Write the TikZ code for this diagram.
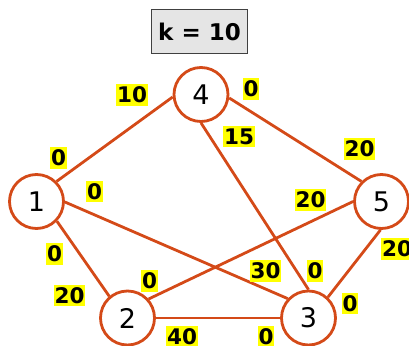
\documentclass[tikz,border=0pt]{standalone}
\usepackage{fontspec}
\setmainfont{DejaVu Sans}
\usetikzlibrary{positioning}
\definecolor{arcred}{RGB}{212,74,24}
\definecolor{hilite}{RGB}{255,255,0}
\tikzset{
  vertex/.style={circle,draw=arcred,line width=2.8pt,fill=white,
    minimum size=54pt,inner sep=0pt,font=\fontsize{27}{29}\selectfont},
  arc/.style={draw=arcred,line width=2.8pt},
  weight/.style={fill=hilite,inner xsep=1pt,inner ysep=2.5pt,
    font=\bfseries\fontsize{21.5}{23}\selectfont}
}

\begin{document}
\begin{tikzpicture}[x=1pt,y=-1pt]
  \useasboundingbox (0,0) rectangle (409,345);
  \node[draw=black!75,fill=black!10,line width=1.3pt,minimum width=96pt,
    minimum height=44pt,font=\bfseries\fontsize{23}{25}\selectfont] (kbox) at (199.5,31.5) {k = 10};
  \node[vertex] (n4) at (201,94.5) {4};
  \node[vertex] (n1) at (36.5,201.5) {1};
  \node[vertex] (n5) at (381.5,201.5) {5};
  \node[vertex] (n2) at (127.5,318) {2};
  \node[vertex] (n3) at (308.5,318) {3};
  \draw[arc] (n1.45) -- (n4.185);
  \draw[arc] (n4.-7) -- (n5.135);
  \draw[arc] (n4.south) -- (n3.north);
  \draw[arc] (n1.-1) -- (n3.137);
  \draw[arc] (n1.-44) -- (n2.130);
  \draw[arc] (n5.west) -- (n2.42);
  \draw[arc] (n5.268) -- (n3.47);
  \draw[arc] (n2.east) -- (n3.west);
  \node[weight] (w41) at (132,95) {10};
  \node[weight] (w45) at (251,89) {0};
  \node[weight] (w14) at (58.5,158) {0};
  \node[weight] (w43) at (239,136.5) {15};
  \node[weight] (w54) at (359.5,149) {20};
  \node[weight] (w13) at (94.5,191.5) {0};
  \node[weight] (w52) at (310.5,200) {20};
  \node[weight] (w53) at (397,249) {20};
  \node[weight] (w12) at (54.5,254) {0};
  \node[weight] (w21) at (69.5,295.5) {20};
  \node[weight] (w25) at (149.5,281) {0};
  \node[weight] (w31) at (265.5,271) {30};
  \node[weight] (w34) at (315,271) {0};
  \node[weight] (w35) at (350,303.5) {0};
  \node[weight] (w23) at (182,337) {40};
  \node[weight] (w32) at (266,337) {0};
\end{tikzpicture}
\end{document}
